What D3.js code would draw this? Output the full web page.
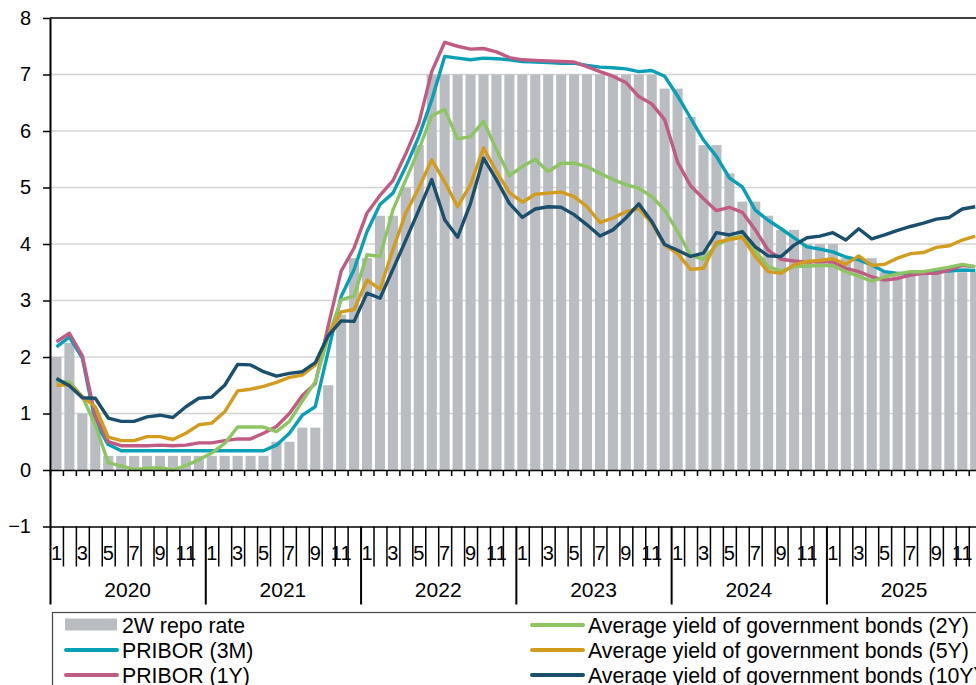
<!DOCTYPE html>
<html><head><meta charset="utf-8">
<script src="https://cdn.jsdelivr.net/npm/d3@7"></script>
<style>
html,body{margin:0;padding:0;background:#fff;}
svg{display:block;font-family:"Liberation Sans",Arial,sans-serif;}
</style></head><body>
<svg id="chart" width="976" height="685"></svg>
<script>
const years = ["2020","2021","2022","2023","2024","2025"];
const monthLabels = ["1","","3","","5","","7","","9","","11",""];
const yTicks = [-1,0,1,2,3,4,5,6,7,8];

const repo = [2.0,2.25,1.0,1.0,0.25,0.25,0.25,0.25,0.25,0.25,0.25,0.25,
  0.25,0.25,0.25,0.25,0.25,0.5,0.5,0.75,0.75,1.5,2.75,3.75,
  3.75,4.5,4.5,5.0,5.75,7,7,7,7,7,7,7,
  7,7,7,7,7,7,7,7,7,7,7,6.75,
  6.75,6.25,5.75,5.75,5.25,4.75,4.75,4.5,4.25,4.25,4.0,4.0,
  4.0,3.75,3.75,3.75,3.5,3.5,3.5,3.5,3.5,3.5,3.5,3.5];
const pribor3m = [2.18,2.35,1.98,0.85,0.45,0.34,0.34,0.34,0.34,0.34,0.34,0.34,
  0.34,0.34,0.34,0.34,0.34,0.44,0.65,0.97,1.12,2.1,3.07,3.55,
  4.22,4.7,4.9,5.37,5.9,6.55,7.32,7.29,7.26,7.29,7.28,7.26,
  7.23,7.22,7.21,7.2,7.2,7.16,7.13,7.12,7.1,7.05,7.07,6.97,
  6.62,6.23,5.84,5.55,5.17,5.01,4.6,4.42,4.27,4.11,3.95,3.91,
  3.86,3.77,3.72,3.63,3.51,3.48,3.48,3.5,3.51,3.52,3.54,3.53];
const pribor1y = [2.27,2.42,2.02,0.95,0.5,0.43,0.43,0.43,0.44,0.43,0.44,0.48,
  0.48,0.52,0.55,0.55,0.65,0.77,1.0,1.32,1.53,2.55,3.52,3.93,
  4.55,4.86,5.12,5.6,6.14,7.05,7.57,7.5,7.45,7.46,7.4,7.3,
  7.26,7.25,7.24,7.23,7.22,7.14,7.05,6.97,6.86,6.61,6.48,6.2,
  5.45,5.03,4.8,4.59,4.65,4.56,4.25,3.89,3.73,3.7,3.68,3.69,
  3.68,3.57,3.51,3.42,3.36,3.39,3.45,3.48,3.48,3.54,3.62,3.6];
const bond2y = [1.56,1.56,1.3,0.8,0.13,0.07,0.01,0.03,0.04,0.0,0.08,0.18,
  0.3,0.47,0.76,0.76,0.76,0.68,0.86,1.22,1.56,2.36,3.01,3.08,
  3.81,3.78,4.6,5.14,5.67,6.27,6.38,5.86,5.9,6.17,5.67,5.21,
  5.37,5.5,5.28,5.43,5.43,5.37,5.25,5.14,5.05,4.99,4.84,4.6,
  4.22,3.8,3.73,3.98,4.1,4.14,3.88,3.6,3.52,3.6,3.61,3.62,
  3.62,3.51,3.43,3.34,3.42,3.47,3.51,3.51,3.55,3.59,3.64,3.6];
const bond5y = [1.5,1.51,1.3,1.12,0.58,0.52,0.52,0.59,0.59,0.54,0.65,0.8,
  0.83,1.03,1.4,1.43,1.48,1.55,1.64,1.68,1.86,2.38,2.8,2.84,
  3.36,3.2,3.9,4.55,4.99,5.49,5.1,4.66,5.05,5.7,5.28,4.91,
  4.74,4.88,4.9,4.92,4.84,4.66,4.38,4.46,4.57,4.63,4.37,3.98,
  3.83,3.55,3.57,4.03,4.08,4.12,3.78,3.51,3.48,3.63,3.69,3.71,
  3.74,3.64,3.79,3.62,3.64,3.75,3.83,3.85,3.94,3.97,4.07,4.14];
const bond10y = [1.62,1.49,1.28,1.27,0.92,0.86,0.86,0.94,0.97,0.93,1.12,1.27,
  1.29,1.5,1.87,1.86,1.74,1.66,1.71,1.74,1.9,2.38,2.64,2.63,
  3.13,3.04,3.55,4.07,4.6,5.14,4.43,4.12,4.72,5.52,5.14,4.72,
  4.47,4.62,4.66,4.65,4.52,4.34,4.14,4.25,4.46,4.71,4.4,3.99,
  3.89,3.78,3.84,4.2,4.16,4.22,3.95,3.79,3.78,3.98,4.11,4.14,
  4.2,4.07,4.27,4.09,4.16,4.24,4.31,4.37,4.44,4.47,4.62,4.66];

const seriesNames = ["2W repo rate","PRIBOR (3M)","PRIBOR (1Y)",
  "Average yield of government bonds (2Y)","Average yield of government bonds (5Y)","Average yield of government bonds (10Y)"];
const seriesColors = ["#b9bcc1","#08a0b7","#c25b84","#8cc562","#d49c1c","#1b4f6e"];

const svg = d3.select("#chart");
const L = 50, R = 981.7, T = 18;
const nMonths = repo.length;
const idx = d3.range(nMonths);

const y = d3.scaleLinear().domain([-1, 8]).range([526.5, T]);
const xb = d3.scaleBand().domain(idx).range([L, R]).paddingInner(0.22).paddingOuter(0.11);
const xl = d3.scaleLinear().domain([0, nMonths]).range([L, R]);
const xc = i => xl(i + 0.5);

// gridlines
svg.append("g").selectAll("line").data([1,2,3,4,5,6,7]).join("line")
  .attr("x1", L).attr("x2", R).attr("y1", d => y(d)).attr("y2", d => y(d))
  .attr("stroke", "#d4d4d4").attr("stroke-width", 1.5);

// bars
svg.append("g").selectAll("rect").data(repo).join("rect")
  .attr("x", (d,i) => xb(i)).attr("width", xb.bandwidth())
  .attr("y", d => y(Math.max(d,0))).attr("height", d => Math.abs(y(d) - y(0)))
  .attr("fill", seriesColors[0]);

// lines
const lineData = [pribor3m, pribor1y, bond2y, bond5y, bond10y];
const lineGen = d3.line().x((d,i) => xc(i)).y(d => y(d));
[0,1,2,3,4].forEach(k => {
  svg.append("path").datum(lineData[k]).attr("d", lineGen)
    .attr("fill", "none").attr("stroke", seriesColors[k+1])
    .attr("stroke-width", 3.4).attr("stroke-linejoin", "round");
});

// top border
svg.append("line").attr("x1", L).attr("x2", R).attr("y1", y(8)).attr("y2", y(8))
  .attr("stroke", "#000").attr("stroke-width", 1.5);

// zero axis with month ticks
const zeroAxis = d3.axisBottom(xl).tickValues(d3.range(0, nMonths + 1)).tickSize(6).tickSizeOuter(0).tickFormat("");
const gz = svg.append("g").attr("transform", `translate(0,${y(0)})`).call(zeroAxis);
gz.selectAll("path,line").attr("stroke", "#000").attr("stroke-width", 1.5);

// y axis
const yAxis = d3.axisLeft(y).tickValues(yTicks).tickSize(7).tickSizeOuter(0).tickPadding(12).tickFormat(d3.format("d"));
const gy = svg.append("g").attr("transform", `translate(${L},0)`).call(yAxis);
gy.select(".domain").attr("stroke", "#000").attr("stroke-width", 2);
gy.selectAll(".tick line").attr("stroke", "#000").attr("stroke-width", 1.5);
gy.selectAll(".tick text").attr("font-size", 20).attr("fill", "#000")
  .attr("font-family", '"Liberation Sans",Arial,sans-serif');

// category axis at -1
const catAxis = d3.axisBottom(xl).tickValues(d3.range(0, nMonths + 1).filter(i => i % 12 !== 0)).tickSize(40).tickSizeOuter(0).tickFormat("");
const gc = svg.append("g").attr("transform", `translate(0,${y(-1)})`).call(catAxis);
gc.selectAll("path,line").attr("stroke", "#000").attr("stroke-width", 1.5);
const yearAxis = d3.axisBottom(xl).tickValues(d3.range(0, nMonths + 1, 12)).tickSize(78).tickSizeOuter(0).tickFormat("");
const gyr = svg.append("g").attr("transform", `translate(0,${y(-1)})`).call(yearAxis);
gyr.select(".domain").remove();
gyr.selectAll("line").attr("stroke", "#000").attr("stroke-width", 2);

// month labels
svg.append("g").selectAll("text").data(idx.filter(i => monthLabels[i % 12] !== "")).join("text")
  .attr("x", i => xc(i)).attr("y", 553).attr("dy", "0.35em")
  .attr("text-anchor", "middle").attr("font-size", 20).attr("fill", "#000")
  .text(i => monthLabels[i % 12]);

// year labels
svg.append("g").selectAll("text").data(years).join("text")
  .attr("x", (d,i) => xl(i*12 + 6)).attr("y", 590).attr("dy", "0.35em")
  .attr("text-anchor", "middle").attr("font-size", 21).attr("fill", "#000")
  .text(d => d);

// legend
svg.append("rect").attr("x", 52.5).attr("y", 612.5).attr("width", 1000).attr("height", 200)
  .attr("fill", "#fff").attr("stroke", "#444").attr("stroke-width", 1.2);
const legendPos = [[65,625],[65,650],[65,675],[531,625],[531,650],[531,675]];
seriesNames.forEach((name, k) => {
  const [lx, ly] = legendPos[k];
  if (k === 0) {
    svg.append("rect").attr("x", lx).attr("y", ly - 6.5).attr("width", 52).attr("height", 12).attr("fill", seriesColors[0]);
  } else {
    svg.append("line").attr("x1", lx + 1).attr("x2", lx + 52).attr("y1", ly).attr("y2", ly)
      .attr("stroke", seriesColors[k]).attr("stroke-width", 4).attr("stroke-linecap", "round");
  }
  svg.append("text").attr("x", lx + 57).attr("y", ly).attr("dy", "0.36em")
    .attr("font-size", 21.3).attr("fill", "#000").text(name);
});
</script>
</body></html>
